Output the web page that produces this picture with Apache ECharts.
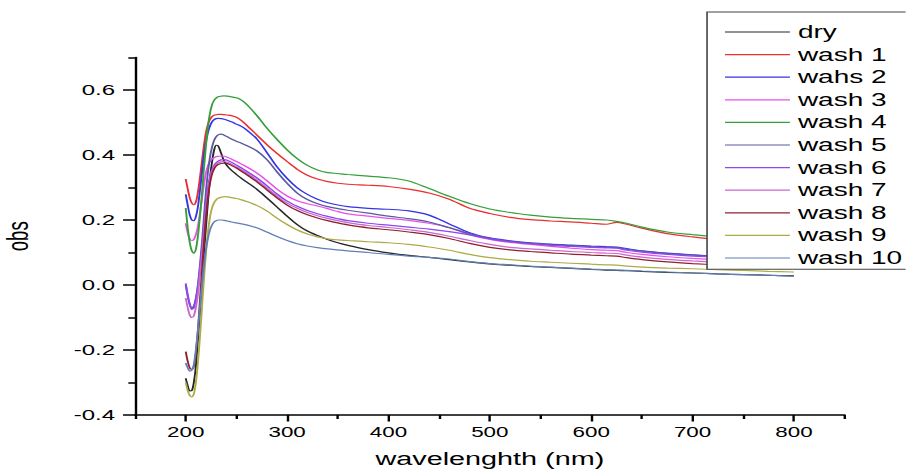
<!DOCTYPE html>
<html>
<head>
<meta charset="utf-8">
<script src="https://cdn.jsdelivr.net/npm/echarts@6/dist/echarts.min.js"></script>
<style>
html,body{margin:0;padding:0;background:#fff;overflow:hidden;width:906px;height:470px;}
#chart{width:566.25px;height:470px;transform:scaleX(1.6);transform-origin:0 0;}
</style>
</head>
<body>
<div id="chart"></div>
<script>
// ---- data ----
const wavelengths = [200,202,204,206,208,210,212,214,216,218,220,222,224,226,228,230,232,235,238,241,245,250,255,260,270,280,290,300,310,320,330,340,350,360,380,400,420,440,460,480,500,520,540,560,580,600,615,625,635,650,675,700,725,750,775,800];

const dry = [-0.287,-0.31,-0.326,-0.325,-0.30,-0.25,-0.17,-0.08,0.01,0.10,0.18,0.26,0.33,0.38,0.415,0.43,0.428,0.405,0.38,0.366,0.353,0.34,0.328,0.317,0.295,0.268,0.24,0.212,0.186,0.166,0.152,0.14,0.13,0.122,0.109,0.099,0.091,0.085,0.078,0.071,0.065,0.061,0.057,0.054,0.051,0.048,0.046,0.045,0.044,0.042,0.039,0.037,0.034,0.032,0.03,0.028];
const wash1 = [0.326,0.295,0.268,0.252,0.247,0.255,0.285,0.33,0.38,0.43,0.47,0.495,0.51,0.518,0.522,0.524,0.525,0.525,0.524,0.523,0.521,0.516,0.506,0.492,0.462,0.432,0.405,0.38,0.356,0.338,0.326,0.318,0.313,0.31,0.307,0.303,0.295,0.283,0.264,0.236,0.22,0.208,0.201,0.197,0.194,0.19,0.187,0.193,0.187,0.175,0.158,0.148,0.14,0.134,0.128,0.122];
const wahs2 = [0.279,0.245,0.215,0.2,0.198,0.21,0.24,0.29,0.345,0.4,0.44,0.47,0.49,0.502,0.509,0.512,0.513,0.512,0.51,0.507,0.502,0.495,0.488,0.477,0.45,0.408,0.364,0.328,0.299,0.279,0.264,0.253,0.246,0.241,0.236,0.233,0.228,0.215,0.188,0.161,0.145,0.136,0.13,0.126,0.123,0.12,0.118,0.117,0.112,0.105,0.098,0.093,0.088,0.084,0.08,0.076];
const wash3 = [0.19,0.16,0.142,0.137,0.14,0.155,0.18,0.22,0.265,0.31,0.345,0.368,0.38,0.388,0.392,0.395,0.396,0.397,0.396,0.393,0.388,0.38,0.372,0.364,0.345,0.321,0.295,0.274,0.259,0.25,0.243,0.235,0.226,0.219,0.212,0.205,0.199,0.19,0.177,0.155,0.14,0.131,0.125,0.119,0.113,0.109,0.107,0.106,0.1,0.094,0.087,0.082,0.078,0.075,0.072,0.069];
const wash4 = [0.237,0.175,0.13,0.105,0.098,0.11,0.15,0.21,0.28,0.36,0.43,0.49,0.53,0.555,0.568,0.575,0.579,0.581,0.582,0.581,0.579,0.576,0.569,0.556,0.522,0.483,0.448,0.416,0.389,0.368,0.354,0.346,0.343,0.34,0.335,0.33,0.32,0.297,0.273,0.251,0.234,0.223,0.215,0.209,0.205,0.202,0.2,0.196,0.19,0.178,0.163,0.155,0.148,0.142,0.137,0.132];
const wash5 = [0.0,-0.035,-0.06,-0.07,-0.065,-0.04,0.0,0.06,0.13,0.21,0.29,0.35,0.395,0.425,0.445,0.456,0.462,0.464,0.461,0.456,0.449,0.442,0.436,0.429,0.413,0.386,0.348,0.313,0.283,0.263,0.25,0.241,0.235,0.23,0.221,0.212,0.204,0.194,0.176,0.158,0.143,0.134,0.128,0.124,0.121,0.118,0.116,0.115,0.11,0.104,0.097,0.092,0.087,0.083,0.079,0.075];
const wash6 = [0.005,-0.03,-0.06,-0.075,-0.07,-0.045,-0.005,0.05,0.11,0.18,0.25,0.3,0.335,0.355,0.368,0.376,0.381,0.385,0.386,0.384,0.378,0.369,0.36,0.35,0.33,0.306,0.28,0.258,0.242,0.229,0.219,0.211,0.204,0.198,0.19,0.184,0.178,0.172,0.164,0.154,0.142,0.133,0.127,0.122,0.119,0.116,0.114,0.113,0.107,0.101,0.094,0.089,0.085,0.081,0.077,0.073];
const wash7 = [-0.04,-0.07,-0.093,-0.1,-0.095,-0.07,-0.03,0.03,0.09,0.16,0.23,0.285,0.325,0.35,0.363,0.371,0.376,0.379,0.38,0.378,0.372,0.363,0.354,0.345,0.323,0.299,0.273,0.252,0.236,0.223,0.213,0.205,0.198,0.192,0.183,0.177,0.17,0.162,0.15,0.137,0.125,0.116,0.111,0.107,0.103,0.1,0.098,0.097,0.092,0.086,0.079,0.074,0.07,0.067,0.064,0.061];
const wash8 = [-0.205,-0.235,-0.255,-0.26,-0.25,-0.21,-0.14,-0.05,0.04,0.13,0.21,0.27,0.315,0.342,0.357,0.366,0.371,0.374,0.375,0.374,0.368,0.36,0.35,0.34,0.318,0.293,0.268,0.246,0.229,0.216,0.206,0.198,0.191,0.185,0.176,0.17,0.163,0.155,0.143,0.128,0.116,0.108,0.103,0.099,0.095,0.092,0.09,0.089,0.084,0.078,0.071,0.066,0.062,0.059,0.056,0.053];
const wash9 = [-0.3,-0.325,-0.34,-0.344,-0.335,-0.3,-0.24,-0.16,-0.07,0.02,0.1,0.165,0.21,0.238,0.253,0.262,0.267,0.27,0.272,0.271,0.269,0.266,0.262,0.257,0.245,0.228,0.206,0.186,0.169,0.157,0.148,0.142,0.139,0.137,0.133,0.13,0.125,0.117,0.107,0.094,0.084,0.078,0.073,0.07,0.067,0.064,0.062,0.061,0.058,0.055,0.052,0.05,0.047,0.045,0.042,0.04];
const wash10 = [-0.24,-0.255,-0.265,-0.262,-0.245,-0.2,-0.14,-0.07,0.0,0.06,0.11,0.145,0.17,0.185,0.194,0.198,0.2,0.2,0.199,0.197,0.194,0.191,0.188,0.185,0.176,0.163,0.149,0.137,0.127,0.12,0.115,0.111,0.108,0.105,0.1,0.094,0.089,0.085,0.08,0.072,0.066,0.062,0.058,0.055,0.052,0.049,0.047,0.046,0.045,0.043,0.04,0.037,0.034,0.032,0.03,0.027];

const seriesNames = ['dry','wash 1','wahs 2','wash 3','wash 4','wash 5','wash 6','wash 7','wash 8','wash 9','wash 10'];
const seriesValues = [dry, wash1, wahs2, wash3, wash4, wash5, wash6, wash7, wash8, wash9, wash10];
const seriesColors = ['#262626','#e83030','#3535e6','#ea50ea','#35a03a','#5a5aa4','#8c48ec','#c868d0','#902030','#acac48','#6080b8'];

const xTickLabels = [200,300,400,500,600,700,800];
const xMinorTicks = [150,250,350,450,550,650,750,850];
const yTickLabels = [-0.4,-0.2,0.0,0.2,0.4,0.6];
const yMinorTicks = [-0.3,-0.1,0.1,0.3,0.5,0.7];

// ---- chart ----
const FONT = '"Liberation Sans", Arial, sans-serif';
const chart = echarts.init(document.getElementById('chart'), null, {renderer: 'svg'});

const series = seriesNames.map((name, i) => ({
  name: name,
  type: 'line',
  xAxisIndex: 0,
  yAxisIndex: 0,
  data: wavelengths.map((w, j) => [w, seriesValues[i][j]]),
  showSymbol: false,
  smooth: 0.3,
  lineStyle: {width: 1.2, color: seriesColors[i]},
  itemStyle: {color: seriesColors[i]},
  emphasis: {disabled: true},
  z: 2
}));

const axisLineStyle = {color: '#000', width: 1.5};

chart.setOption({
  animation: false,
  backgroundColor: '#fff',
  textStyle: {fontFamily: FONT},
  grid: {left: 84.4, right: 38.1, top: 57.5, bottom: 55, containLabel: false, outerBoundsMode: 'none'},
  legend: {
    orient: 'vertical',
    left: 441.9,
    top: 12,
    padding: [8.7, 40, 0, 11.2],
    itemGap: 0,
    itemWidth: 40.6,
    itemHeight: 1.2,
    icon: 'rect',
    backgroundColor: '#fff',
    borderColor: '#444',
    borderWidth: 1,
    borderRadius: 0,
    textStyle: {fontSize: 17.5, lineHeight: 22.6, color: '#000', fontFamily: FONT},
    data: seriesNames,
    selectedMode: false
  },
  xAxis: [{
    type: 'value',
    min: 150, max: 850,
    name: 'wavelenghth (nm)',
    nameLocation: 'middle',
    nameGap: 35,
    nameTextStyle: {fontSize: 18, lineHeight: 18, color: '#000', fontFamily: FONT},
    axisLine: {show: true, onZero: false, lineStyle: axisLineStyle},
    axisTick: {show: true, inside: false, length: 6.5, lineStyle: {color: '#000', width: 1.5}, customValues: xTickLabels},
    axisLabel: {show: true, margin: 10, fontSize: 14, color: '#000', fontFamily: FONT, customValues: xTickLabels},
    splitLine: {show: false}
  }, {
    type: 'value',
    min: 150, max: 850,
    position: 'bottom',
    offset: 0,
    axisLine: {show: false, onZero: false},
    axisTick: {show: true, inside: false, length: 4, lineStyle: {color: '#000', width: 1.5}, customValues: xMinorTicks},
    axisLabel: {show: false},
    splitLine: {show: false}
  }],
  yAxis: [{
    type: 'value',
    min: -0.4, max: 0.7,
    name: 'obs',
    nameLocation: 'middle',
    nameRotate: 90,
    nameGap: 64,
    nameTextStyle: {fontSize: 18.6, lineHeight: 18.6, color: '#000', fontFamily: FONT},
    axisLine: {show: true, onZero: false, lineStyle: axisLineStyle},
    axisTick: {show: true, inside: false, length: 7.5, lineStyle: {color: '#000', width: 1.5}, customValues: yTickLabels},
    axisLabel: {show: true, margin: 12.5, fontSize: 15, color: '#000', fontFamily: FONT, customValues: yTickLabels,
      formatter: v => Number(v).toFixed(1)},
    splitLine: {show: false}
  }, {
    type: 'value',
    min: -0.4, max: 0.7,
    position: 'left',
    offset: 0,
    axisLine: {show: false, onZero: false},
    axisTick: {show: true, inside: false, length: 4.2, lineStyle: {color: '#000', width: 1.5}, customValues: yMinorTicks},
    axisLabel: {show: false},
    splitLine: {show: false}
  }],
  series: series
});
</script>
</body>
</html>
